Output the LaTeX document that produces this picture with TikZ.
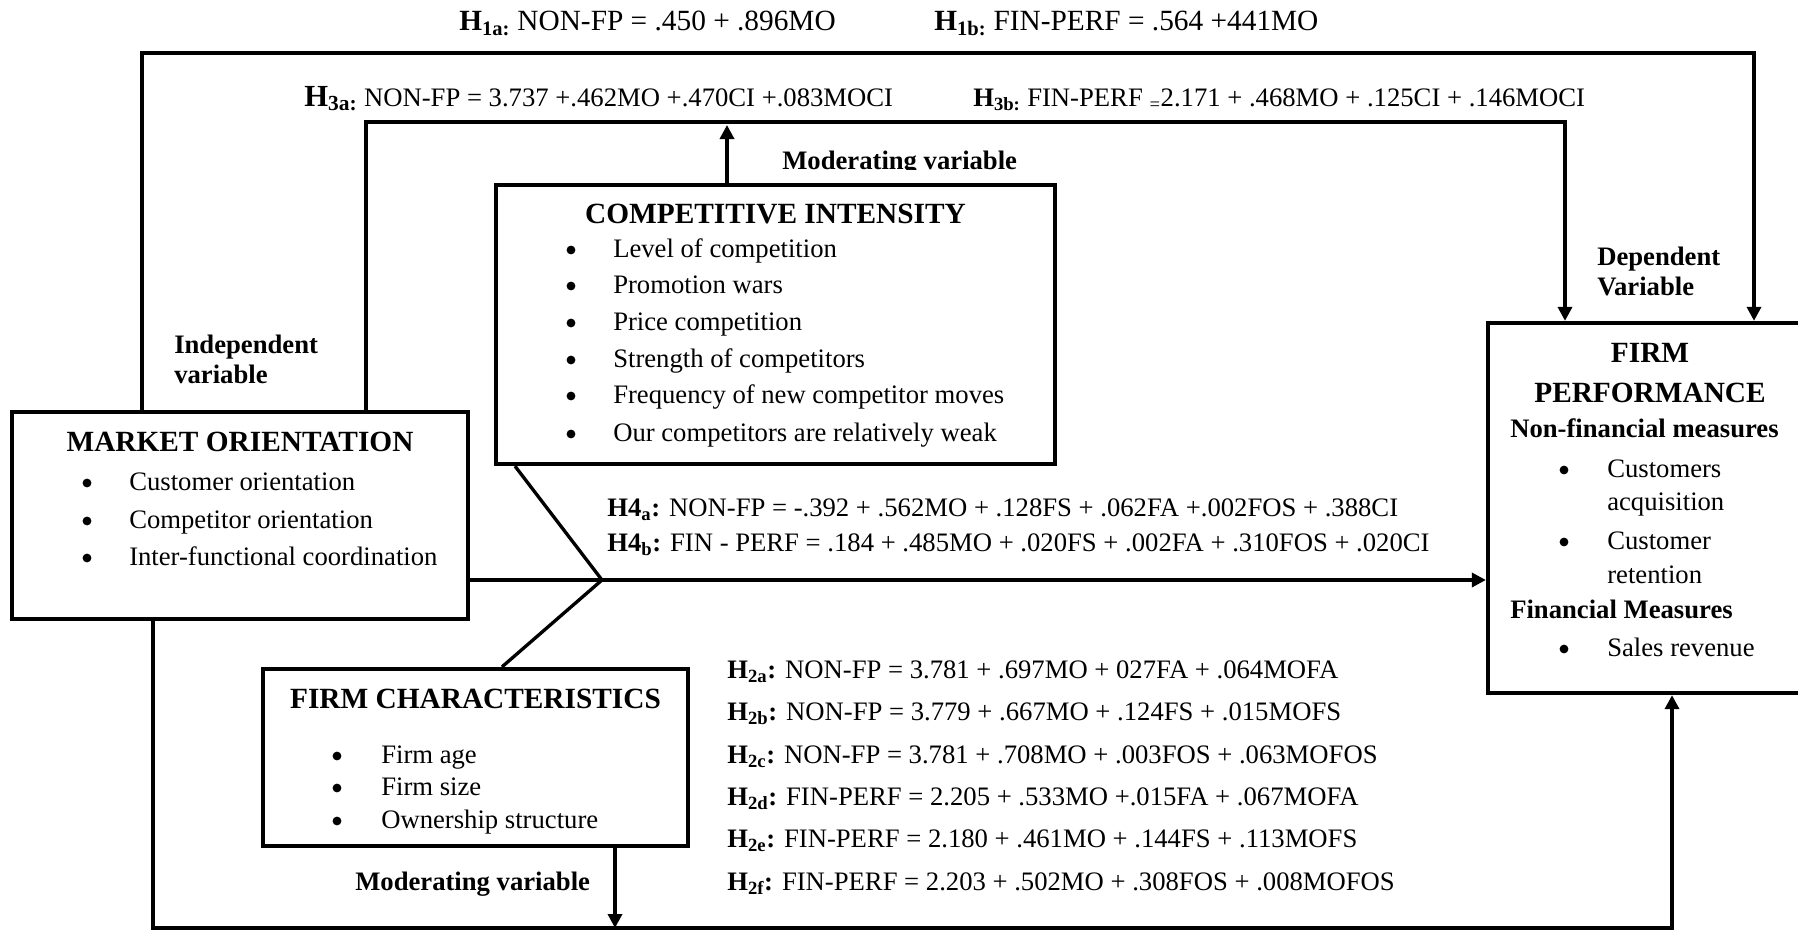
\documentclass[tikz,border=0pt]{standalone}
\usepackage{fontspec}
\setmainfont{Liberation Serif}
\usetikzlibrary{arrows.meta,fit}
\newcommand{\fsz}[1]{\fontsize{#1}{#1}\selectfont}
\tikzset{
  box/.style={draw, line width=3.2pt, inner sep=0pt, rectangle},
  conn/.style={line width=2.5pt, line join=miter},
  arr/.style={conn, -{Triangle[length=10.5pt,width=10.5pt]}},
  txt/.style={inner sep=0pt, anchor=base west, font=\fsz{20}},
  bul/.style={circle, fill=black, inner sep=0pt, minimum size=6.6pt},
  ttl/.style={inner sep=0pt, anchor=base, font=\fsz{22}\bfseries},
  lbl/.style={inner sep=0pt, anchor=base west, font=\fsz{20}\bfseries},
  eqn/.style={inner sep=0pt, anchor=base west, font=\fsz{20}},
  topeq/.style={inner sep=0pt, anchor=base west, font=\fsz{22}},
}
\begin{document}
\begin{tikzpicture}[x=0.75pt,y=-0.75pt]
\clip (0,0) rectangle (1798,931);
\fill[white] (0,0) rectangle (1798,931);

% boxes
\node[box, fit={(496,185) (1055,464)}] (ci) {};
\node[box, fit={(12,412) (468,619)}] (mo) {};
\node[box, fit={(263,669) (688,846)}] (fc) {};
\node[box, fit={(1488,323) (1812,693)}] (fp) {};

% connector bends
\coordinate (o1) at (142,53);  \coordinate (o2) at (1754,53);
\coordinate (i1) at (366,122); \coordinate (i2) at (1565,122);
\coordinate (ciup) at (727,125);
\coordinate (b1) at (153,928); \coordinate (b2) at (1672,928);
\coordinate (fcd) at (615,928);
\coordinate (j) at (602,580);
\coordinate (cil) at (515,0); \coordinate (fcl) at (502,0);

\draw[arr] (mo.north -| o1) -- (o1) -- (o2) -- (fp.north -| o2);
\draw[arr] (mo.north -| i1) -- (i1) -- (i2) -- (fp.north -| i2);
\draw[arr] (ci.north -| ciup) -- (ciup);
\draw[arr] (mo.south -| b1) -- (b1) -- (b2) -- (fp.south -| b2);
\draw[arr] (fc.south -| fcd) -- (fcd);
\draw[conn] (ci.south -| cil) -- (j) -- (fc.north -| fcl);
\draw[arr] (mo.east |- j) -- (fp.west |- j);

% top equations
\node[topeq] (h1a) at (459,31) {\textbf{H}\textsubscript{\textbf{1a:}} NON-FP = .450 + .896MO};
\node[topeq] (h1b) at (934,31) {\textbf{H}\textsubscript{\textbf{1b:}} FIN-PERF = .564 +441MO};
\node[eqn] (h3a) at (304,106) {\textbf{\fsz{23}H\textsubscript{3a:}} NON-FP = 3.737 +.462MO +.470CI +.083MOCI};
\node[eqn] (h3b) at (973,106) {\textbf{H\textsubscript{3b:}} FIN-PERF \textsubscript{=}2.171 + .468MO + .125CI + .146MOCI};

% moderating variable (top), clipped at the box
\begin{scope}
\clip (700,140) rectangle (1100,169);
\node[lbl] (modtop) at (782,169.5) {Moderating variable};
\end{scope}

% competitive intensity
\node[ttl] (cit) at (775.5,223) {COMPETITIVE INTENSITY};
\foreach \t/\y [count=\k] in {Level of competition/257, Promotion wars/293, Price competition/330, Strength of competitors/367, Frequency of new competitor moves/403, Our competitors are relatively weak/441}{
  \node[bul] (cib\k) at (571,\y-7) {};
  \node[txt] (cii\k) at (613,\y) {\t};
}

% market orientation
\node[lbl] (ind1) at (174,353) {Independent};
\node[lbl] (ind2) at (174,383) {variable};
\node[ttl] (mot) at (240,451) {MARKET ORIENTATION};
\foreach \t/\y [count=\k] in {Customer orientation/490, Competitor orientation/528, Inter-functional coordination/565}{
  \node[bul] (mob\k) at (87,\y-7) {};
  \node[txt] (moi\k) at (129,\y) {\t};
}

% firm characteristics
\node[ttl] (fct) at (475.5,708) {FIRM CHARACTERISTICS};
\foreach \t/\y [count=\k] in {Firm age/763, Firm size/795, Ownership structure/828}{
  \node[bul] (fcb\k) at (337,\y-7) {};
  \node[txt] (fci\k) at (381,\y) {\t};
}
\node[lbl] (modbot) at (355,890) {Moderating variable};

% firm performance
\node[lbl] (dep1) at (1597,265) {Dependent};
\node[lbl] (dep2) at (1597,295) {Variable};
\node[ttl] (fpt1) at (1650,362) {FIRM};
\node[ttl] (fpt2) at (1650,402) {PERFORMANCE};
\node[lbl] (nfm) at (1510,437) {Non-financial measures};
\node[bul] (fpb1) at (1564,470) {};
\node[txt] (fpi1) at (1607,477) {Customers};
\node[txt] (fpi1b) at (1607,510) {acquisition};
\node[bul] (fpb2) at (1564,542) {};
\node[txt] (fpi2) at (1607,549) {Customer};
\node[txt] (fpi2b) at (1607,583) {retention};
\node[lbl] (fm) at (1510,618) {Financial Measures};
\node[bul] (fpb3) at (1564,649) {};
\node[txt] (fpi3) at (1607,656) {Sales revenue};

% H4 equations
\node[eqn] (h4a) at (607,516) {\textbf{H4\textsubscript{a}:} NON-FP = -.392 + .562MO + .128FS + .062FA +.002FOS + .388CI};
\node[eqn] (h4b) at (607,551) {\textbf{H4\textsubscript{b}:} FIN - PERF = .184 + .485MO + .020FS + .002FA + .310FOS + .020CI};

% H2 equations
\node[eqn] (h2a) at (727,678) {\textbf{H\textsubscript{2a}:} NON-FP = 3.781 + .697MO + 027FA + .064MOFA};
\node[eqn] (h2b) at (727,720.5) {\textbf{H\textsubscript{2b}:} NON-FP = 3.779 + .667MO + .124FS + .015MOFS};
\node[eqn] (h2c) at (727,763) {\textbf{H\textsubscript{2c}:} NON-FP = 3.781 + .708MO + .003FOS + .063MOFOS};
\node[eqn] (h2d) at (727,805) {\textbf{H\textsubscript{2d}:} FIN-PERF = 2.205 + .533MO +.015FA + .067MOFA};
\node[eqn] (h2e) at (727,847.5) {\textbf{H\textsubscript{2e}:} FIN-PERF = 2.180 + .461MO + .144FS + .113MOFS};
\node[eqn] (h2f) at (727,890) {\textbf{H\textsubscript{2f}:} FIN-PERF = 2.203 + .502MO + .308FOS + .008MOFOS};
\end{tikzpicture}
\end{document}
